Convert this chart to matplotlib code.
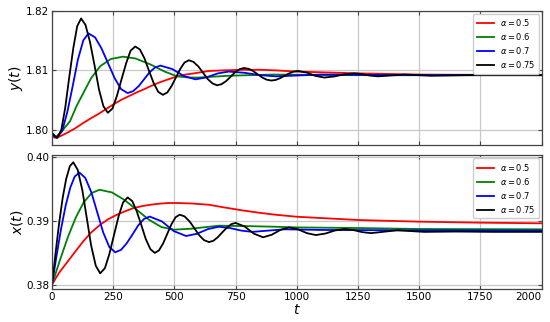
"""Two-panel response curves y(t), x(t) for several alpha values."""

import matplotlib
matplotlib.use("Agg")
import matplotlib.pyplot as plt

ALPHAS = ["0.5", "0.6", "0.7", "0.75"]
COLORS = ["red", "green", "blue", "black"]

# --- y(t), top panel -------------------------------------------------------
T_Y50 = [0, 12, 30, 60, 95, 128, 160, 190, 220, 251, 280, 310, 340, 374, 405,
         440, 475, 511, 545, 580, 641, 700, 777, 850, 914, 1000, 1250, 1500, 2000]
Y50 = [1.7990, 1.7987, 1.7989, 1.7995, 1.8003, 1.8012, 1.8020, 1.8027, 1.8035,
       1.8043, 1.8050, 1.8056, 1.8062, 1.8068, 1.8074, 1.8080, 1.8085, 1.8090,
       1.8093, 1.8095, 1.8099, 1.8100, 1.8101, 1.8101, 1.8100, 1.8098, 1.8095,
       1.8093, 1.8092]

T_Y60 = [0, 15, 40, 74, 100, 128, 160, 197, 240, 290, 340, 402, 460, 511, 560,
         600, 720, 900, 1200, 2000]
Y60 = [1.7995, 1.7988, 1.7998, 1.8015, 1.8040, 1.8062, 1.8087, 1.8107, 1.8119,
       1.8123, 1.8120, 1.8110, 1.8098, 1.8090, 1.8088, 1.8088, 1.8091, 1.8093,
       1.8092, 1.8092]

T_Y70 = [0, 20, 42, 63, 85, 106, 128, 149, 176, 202, 229, 256, 282, 309, 331,
         354, 376, 398, 421, 443, 491, 538, 586, 631, 676, 721, 785, 850, 914,
         1100, 1400, 2000]
Y70 = [1.7995, 1.7987, 1.79987, 1.80308, 1.80745, 1.81183, 1.81503, 1.8162,
       1.81553, 1.8137, 1.8112, 1.8087, 1.80687, 1.8062, 1.80651, 1.80735,
       1.8085, 1.80965, 1.81049, 1.8108, 1.81023, 1.80907, 1.8085, 1.80883,
       1.80948, 1.8098, 1.8096, 1.8092, 1.8090, 1.8093, 1.8092, 1.8092]

T_Y75 = [0, 10, 22, 38, 54, 70, 87, 103, 119, 137, 155, 174, 192, 210, 228,
         247, 265, 284, 303, 321, 340, 359, 378, 396, 415, 434, 453, 471, 488,
         506, 524, 541, 559, 578, 598, 617, 636, 656, 675, 693, 711, 730, 748,
         766, 784, 803, 821, 840, 859, 877, 896, 914, 932, 950, 969, 987, 1005,
         1041, 1076, 1112, 1153, 1193, 1234, 1266, 1299, 1331, 1440, 1550, 1700,
         2000]
Y75 = [1.7995, 1.7990, 1.7987, 1.8000, 1.8037, 1.8087, 1.8137, 1.8174, 1.8187,
       1.8176, 1.8148, 1.8108, 1.8068, 1.8040, 1.8029, 1.8036, 1.8057, 1.8085,
       1.8112, 1.8133, 1.8140, 1.8135, 1.8120, 1.80995, 1.8079, 1.8064, 1.8059,
       1.8063, 1.80735, 1.8088, 1.81025, 1.8113, 1.8117, 1.81142, 1.81065,
       1.8096, 1.80855, 1.8078, 1.8075, 1.8077, 1.8082, 1.80895, 1.8097, 1.8102,
       1.8104, 1.81026, 1.8099, 1.80935, 1.8088, 1.80844, 1.8083, 1.8084,
       1.8087, 1.8091, 1.8095, 1.8098, 1.8099, 1.80963, 1.80908, 1.8088,
       1.80898, 1.80933, 1.8095, 1.80938, 1.80913, 1.8090, 1.8093, 1.8091,
       1.8092, 1.8092]

# --- x(t), bottom panel ----------------------------------------------------
T_X50 = [0, 15, 30, 60, 95, 128, 160, 197, 230, 265, 300, 333, 370, 402, 440,
         470, 504, 570, 641, 700, 777, 850, 914, 1000, 1250, 1500, 1750, 2000]
X50 = [0.3800, 0.3810, 0.38195, 0.38344, 0.38520, 0.38683, 0.38820, 0.38942,
       0.39030, 0.39098, 0.39155, 0.39203, 0.39235, 0.39255, 0.39272, 0.39281,
       0.39283, 0.39275, 0.39255, 0.39215, 0.39167, 0.39128, 0.39098, 0.39067,
       0.39016, 0.38990, 0.38974, 0.38964]

T_X60 = [0, 32, 65, 97, 129, 162, 194, 245, 295, 346, 396, 447, 497, 570, 682,
         800, 914, 1000, 1250, 1500, 2000]
X60 = [0.3800, 0.38381, 0.38748, 0.39053, 0.39289, 0.39439, 0.3949, 0.39448,
       0.39333, 0.39177, 0.3902, 0.38906, 0.38864, 0.3888, 0.38927, 0.3892,
       0.3891, 0.3890, 0.3889, 0.38875, 0.3887]

T_X70 = [0, 19, 37, 56, 75, 93, 112, 136, 161, 185, 209, 234, 258, 282, 305,
         329, 352, 376, 399, 449, 498, 548, 593, 637, 682, 727, 773, 818, 950,
         1100, 1400, 2000]
X70 = [0.3800, 0.38463, 0.38875, 0.39244, 0.39526, 0.39698, 0.3976, 0.39676,
       0.39448, 0.39135, 0.38823, 0.38594, 0.3851, 0.38548, 0.3865, 0.3879,
       0.3893, 0.39032, 0.3907, 0.38994, 0.38841, 0.38765, 0.38801, 0.38874,
       0.3891, 0.3889, 0.3885, 0.3883, 0.3887, 0.3886, 0.38855, 0.3885]

T_X75 = [0, 15, 29, 44, 58, 73, 87, 105, 124, 142, 160, 179, 197, 216, 234,
         253, 272, 290, 309, 328, 346, 365, 383, 402, 420, 437, 454, 471, 488,
         505, 522, 542, 562, 582, 601, 621, 641, 659, 677, 695, 714, 732, 750,
         787, 825, 862, 897, 933, 968, 1005, 1041, 1078, 1117, 1155, 1194, 1230,
         1267, 1303, 1410, 1520, 1650, 1800, 2000]
X75 = [0.3800, 0.3851, 0.3896, 0.3937, 0.3966, 0.3986, 0.3992, 0.39803,
       0.39485, 0.3905, 0.38615, 0.38297, 0.3818, 0.3826, 0.38478, 0.38775,
       0.39073, 0.3929, 0.3937, 0.39312, 0.39153, 0.38935, 0.38718, 0.38559,
       0.3850, 0.3854, 0.3865, 0.3880, 0.3895, 0.3906, 0.3910, 0.39071, 0.38993,
       0.38885, 0.38778, 0.3870, 0.3867, 0.3869, 0.38745, 0.3882, 0.38895,
       0.3895, 0.3897, 0.38914, 0.38801, 0.38745, 0.38784, 0.38861, 0.3890,
       0.3887, 0.3881, 0.3878, 0.38804, 0.38851, 0.38875, 0.38859, 0.38826,
       0.3881, 0.38855, 0.3883, 0.38835, 0.3883, 0.3883]

X_TICKS = [0, 250, 500, 750, 1000, 1250, 1500, 1750, 2000]
Y_TICKS = [1.80, 1.81, 1.82]
XT_TICKS = [0.38, 0.39, 0.40]

top_series = [(T_Y50, Y50), (T_Y60, Y60), (T_Y70, Y70), (T_Y75, Y75)]
bot_series = [(T_X50, X50), (T_X60, X60), (T_X70, X70), (T_X75, X75)]

fig = plt.figure(figsize=(5.5, 3.22), dpi=100)
ax1 = fig.add_axes([0.0945, 0.5497, 0.8904, 0.4171])
ax2 = fig.add_axes([0.0945, 0.1016, 0.8904, 0.4161])


def style(ax, yticks, ylim):
    ax.set_xlim(0, 2000)
    ax.set_ylim(*ylim)
    ax.set_xticks(X_TICKS)
    ax.set_yticks(yticks)
    ax.grid(True, color="#c8c8c8", linewidth=0.9)
    ax.tick_params(direction="in", top=True, right=True, labelsize=7.5,
                   length=3, color="#444444", pad=2)
    for s in ax.spines.values():
        s.set_color("#444444")
        s.set_linewidth(0.9)
    ax.legend(loc="upper right", fontsize=6, frameon=True, fancybox=True,
              framealpha=1, edgecolor="#cccccc", handlelength=2.1,
              handletextpad=0.7, labelspacing=0.35, borderpad=0.45,
              borderaxespad=0.35)


for (t, v), c, a in zip(top_series, COLORS, ALPHAS):
    ax1.plot(t, v, color=c, linewidth=1.3, label=rf"$\alpha = {a}$")
for (t, v), c, a in zip(bot_series, COLORS, ALPHAS):
    ax2.plot(t, v, color=c, linewidth=1.3, label=rf"$\alpha = {a}$")

style(ax1, Y_TICKS, (1.7975, 1.8200))
style(ax2, XT_TICKS, (0.3793, 0.4003))
ax1.set_xticklabels([])
ax1.set_yticklabels(["1.80", "1.81", "1.82"])
ax2.set_yticklabels(["0.38", "0.39", "0.40"])
ax2.get_xticklabels()[-1].set_horizontalalignment("right")

ax1.set_ylabel("$y(t)$", fontsize=10, labelpad=0.5)
ax2.set_ylabel("$x(t)$", fontsize=10, labelpad=0.5)
ax2.set_xlabel("$t$", fontsize=10, labelpad=1)

fig.savefig("out.png", dpi=100)
